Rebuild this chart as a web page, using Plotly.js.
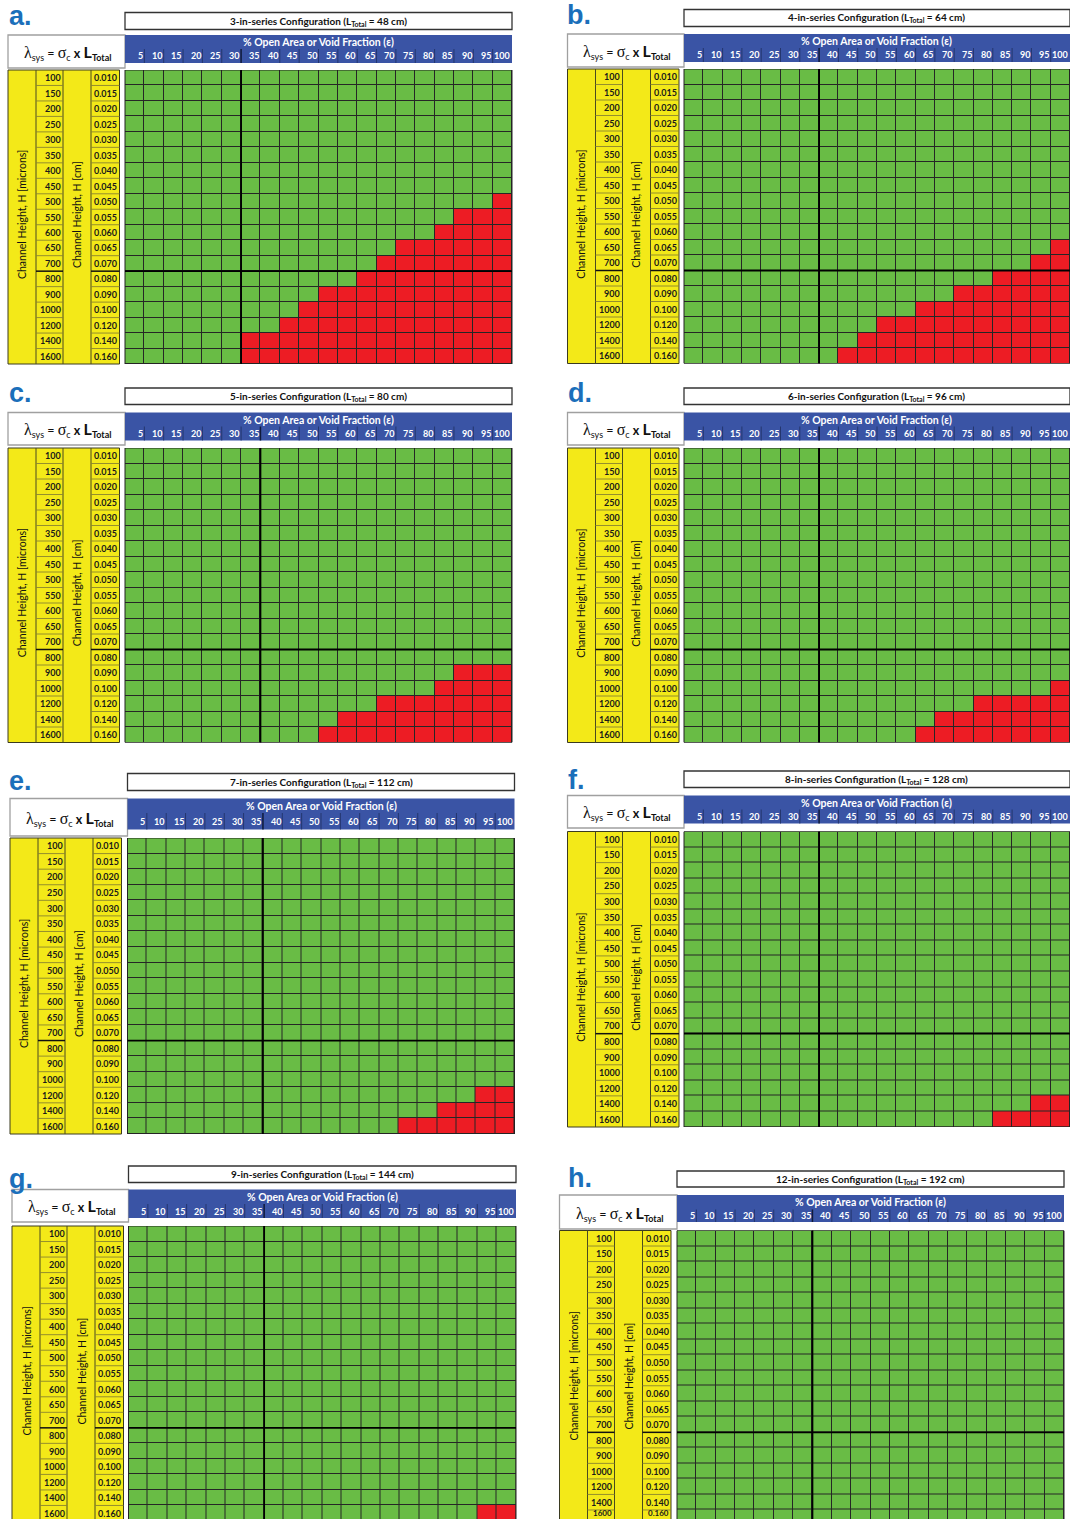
<!DOCTYPE html>
<html><head><meta charset="utf-8">
<script src="https://cdn.plot.ly/plotly-3.0.1.min.js"></script>
<style>html,body{margin:0;padding:0;background:#fff;}#chart{width:1070px;height:1519px;}</style>
</head><body><div id="chart"></div>
<script>
// ---------- DATA ----------
const epsilonPct = ['5','10','15','20','25','30','35','40','45','50','55','60','65','70','75','80','85','90','95','100'];
const heightMicrons = ['100','150','200','250','300','350','400','450','500','550','600','650','700','800','900','1000','1200','1400','1600'];
const heightCm = ['0.010','0.015','0.020','0.025','0.030','0.035','0.040','0.045','0.050','0.055','0.060','0.065','0.070','0.080','0.090','0.100','0.120','0.140','0.160'];
const panelLetters = ['a.','b.','c.','d.','e.','f.','g.','h.'];
const unitsInSeries = [3,4,5,6,7,8,9,12];
const totalLengthCm = [48,64,80,96,112,128,144,192];
// number of red cells at the right end of each row (rows in heightMicrons order)
const redA = [0,0,0,0,0,0,0,0,1,3,4,6,7,8,10,11,12,14,14];
const redB = [0,0,0,0,0,0,0,0,0,0,0,1,2,4,6,8,10,11,12];
const redC = [0,0,0,0,0,0,0,0,0,0,0,0,0,0,3,4,7,9,10];
const redD = [0,0,0,0,0,0,0,0,0,0,0,0,0,0,0,1,5,7,8];
const redE = [0,0,0,0,0,0,0,0,0,0,0,0,0,0,0,0,2,4,6];
const redF = [0,0,0,0,0,0,0,0,0,0,0,0,0,0,0,0,0,2,4];
const redG = [0,0,0,0,0,0,0,0,0,0,0,0,0,0,0,0,0,0,2];
const redH = [0,0,0,0,0,0,0,0,0,0,0,0,0,0,0,0,0,0,0];
const dividerAfterEps = ['30','35','35','35','35','35','35','35'];
const dividerAfterRow = '700';

// ---------- LAYOUT GEOMETRY (pixels) ----------
const W = 1070, H = 1519;
const geo = [
  {lx:8,   ly:16,   L:8,     gx0:125,   gx1:512,  tT:12.5,  tB:29.5,  hT:35,    hM:49,    hB:63,    fB:68,   gT:70,    gB:364},
  {lx:566, ly:15,   L:567.5, gx0:684,   gx1:1070, tT:9.5,   tB:26.5,  hT:34,    hM:48,    hB:62,    fB:67,   gT:69,    gB:363.5},
  {lx:8,   ly:393,  L:8,     gx0:125,   gx1:512,  tT:388,   tB:404.5, hT:412.5, hM:426.5, hB:440.5, fB:445,  gT:448,   gB:742.5},
  {lx:567, ly:393,  L:567.5, gx0:684,   gx1:1070, tT:388,   tB:404.5, hT:412.5, hM:426.5, hB:440.5, fB:445,  gT:448,   gB:742.5},
  {lx:8,   ly:781,  L:10,    gx0:127.5, gx1:514.5,tT:773.5, tB:790.5, hT:798.5, hM:813,   hB:829.5, fB:836,  gT:838,   gB:1134},
  {lx:567, ly:780,  L:567.5, gx0:684,   gx1:1070, tT:771,   tB:787.5, hT:795.5, hM:809.5, hB:823.5, fB:828,  gT:831.5, gB:1127},
  {lx:8,   ly:1179, L:12,    gx0:128.5, gx1:516,  tT:1166,  tB:1182.5,hT:1189.5,hM:1204,  hB:1218,  fB:1222, gT:1226,  gB:1521},
  {lx:567, ly:1178, L:559.5, gx0:677,   gx1:1064, tT:1171,  tB:1187,  hT:1195,  hM:1209.5,hB:1222,  fB:1229, gT:1230.5,gB:1525.5}
];
const panels = [redA, redB, redC, redD, redE, redF, redG, redH];

const GREEN = '#69bc45', RED = '#ed1c24', YELLOW = '#f3e918', BLUE = '#3a54a5', LETTER = '#1b6fba';
const FONT = 'Lato, "Open Sans", "Liberation Sans", sans-serif';
const X = px => px / W, Y = py => 1 - py / H;
const subscript = (t, size, shift) =>
  '<span style="font-size:' + size + 'px;baseline-shift:-' + shift + 'px">' + t + '</span>';

const traces = [], shapes = [], annotations = [];
const layout = {
  width: W, height: H, margin: {l:0, r:0, t:0, b:0},
  paper_bgcolor: '#ffffff', plot_bgcolor: '#262626', showlegend: false,
  font: {family: FONT, color: '#111'}
};

panels.forEach((red, p) => {
  const g = geo[p];
  const sfx = p === 0 ? '' : String(p + 1);
  const xa = 'x' + sfx, ya = 'y' + sfx;
  const nR = heightMicrons.length, nC = epsilonPct.length;
  const rowH = (g.gB - g.gT) / nR;
  const visB = Math.min(g.gB, H);
  const visRows = (visB - g.gT) / rowH;

  layout['xaxis' + sfx] = {domain: [X(g.gx0), X(g.gx1)], type: 'category', range: [-0.5, nC - 0.5],
    showgrid: false, zeroline: false, showticklabels: false, ticks: '', fixedrange: true, anchor: ya};
  layout['yaxis' + sfx] = {domain: [Y(visB), Y(g.gT)], type: 'category', range: [-0.5 + visRows, -0.5],
    showgrid: false, zeroline: false, showticklabels: false, ticks: '', fixedrange: true, anchor: xa};

  const z = heightMicrons.map((h, i) => epsilonPct.map((e, j) => (j >= nC - red[i] ? 1 : 0)));
  traces.push({type: 'heatmap', x: epsilonPct, y: heightMicrons, z: z, xaxis: xa, yaxis: ya,
    colorscale: [[0, GREEN], [1, RED]], zmin: 0, zmax: 1, showscale: false, xgap: 1, ygap: 1, hoverinfo: 'skip'});

  // grid frame + dividers
  shapes.push({type: 'rect', xref: xa + ' domain', yref: ya, x0: 0, x1: 1, y0: -0.5, y1: nR - 0.5,
    line: {color: '#222', width: 1}, fillcolor: 'rgba(0,0,0,0)'});
  const dIdx = epsilonPct.indexOf(dividerAfterEps[p]);
  shapes.push({type: 'line', xref: xa, yref: ya + ' domain', x0: dIdx + 0.5, x1: dIdx + 0.5, y0: 0, y1: 1,
    line: {color: '#000', width: 1.8}});
  const rIdx = heightMicrons.indexOf(dividerAfterRow);
  shapes.push({type: 'line', xref: xa + ' domain', yref: ya, x0: 0, x1: 1, y0: rIdx + 0.5, y1: rIdx + 0.5,
    line: {color: '#000', width: 1.8}});

  // title box
  shapes.push({type: 'rect', xref: 'paper', yref: 'paper', x0: X(g.gx0), x1: X(g.gx1), y0: Y(g.tB), y1: Y(g.tT),
    fillcolor: '#fff', line: {color: '#333', width: 1.3}});
  annotations.push({xref: 'paper', yref: 'paper', x: X((g.gx0 + g.gx1) / 2), y: Y((g.tT + g.tB) / 2),
    text: unitsInSeries[p] + '-in-series Configuration (L' + subscript('Total', 7, 2) + ' = ' + totalLengthCm[p] + ' cm)',
    showarrow: false, font: {size: 10, color: '#111', weight: 700}, xanchor: 'center', yanchor: 'middle'});

  // formula box
  shapes.push({type: 'rect', xref: 'paper', yref: 'paper', x0: X(g.L), x1: X(g.gx0), y0: Y(g.fB), y1: Y(g.hT),
    fillcolor: '#fff', line: {color: '#a0a0a0', width: 1.3}});
  annotations.push({xref: 'paper', yref: 'paper', x: X((g.L + g.gx0) / 2 + 1), y: Y((g.hT + g.fB) / 2 + 1),
    text: '<span style="font-family:Liberation Serif,serif;font-size:16px">λ</span>' + subscript('sys', 9, 3) + ' = ' +
          '<span style="font-family:Liberation Serif,serif;font-size:16px">σ</span>' + subscript('c', 9, 3) + ' ' +
          '<b>x</b> <span style="font-size:16px;font-weight:bold">L</span>' +
          '<span style="font-size:9px;font-weight:bold;baseline-shift:-3px">Total</span>',
    showarrow: false, font: {size: 12.5, color: '#111'}, xanchor: 'center', yanchor: 'middle'});

  // blue header
  shapes.push({type: 'rect', xref: 'paper', yref: 'paper', x0: X(g.gx0), x1: X(g.gx1), y0: Y(g.hB), y1: Y(g.hT),
    fillcolor: BLUE, line: {width: 0}});
  annotations.push({xref: 'paper', yref: 'paper', x: X((g.gx0 + g.gx1) / 2), y: Y((g.hT + g.hM) / 2),
    text: '% Open Area or Void Fraction (ε)', showarrow: false,
    font: {size: 10.5, color: '#fff', weight: 700}, xanchor: 'center', yanchor: 'middle'});
  for (let j = 0; j < nC - 1; j++) {
    shapes.push({type: 'line', xref: xa, yref: 'paper', x0: j + 0.5, x1: j + 0.5, y0: Y(g.hB), y1: Y(g.hM),
      line: {color: j === dIdx ? '#101a3a' : '#24366e', width: j === dIdx ? 1.5 : 1}});
  }
  epsilonPct.forEach((e, j) => {
    annotations.push({xref: xa, yref: 'paper', x: j + 0.46, y: Y((g.hM + g.hB) / 2), text: e, showarrow: false,
      font: {size: 9, color: '#fff', weight: 700}, xanchor: 'right', yanchor: 'middle', borderpad: 0});
  });

  // yellow label block
  const yR = g.L + 111.5;
  shapes.push({type: 'rect', xref: 'paper', yref: 'paper', x0: X(g.L), x1: X(yR), y0: Y(g.gB), y1: Y(g.gT),
    fillcolor: YELLOW, line: {color: '#3a3a20', width: 1}});
  [28, 55, 83].forEach(dx => {
    shapes.push({type: 'line', xref: 'paper', yref: 'paper', x0: X(g.L + dx), x1: X(g.L + dx), y0: Y(g.gB), y1: Y(g.gT),
      line: {color: '#4a4a20', width: 1}});
  });
  for (let i = 0; i < nR - 1; i++) {
    const thick = i === rIdx;
    [[28, 55], [83, 111.5]].forEach(([a, b]) => {
      shapes.push({type: 'line', xref: 'paper', yref: ya, x0: X(g.L + a), x1: X(g.L + b), y0: i + 0.5, y1: i + 0.5,
        line: {color: thick ? '#111' : '#8a8430', width: thick ? 1.5 : 0.9}});
    });
  }
  heightMicrons.forEach((h, i) => {
    // a row label whose centre is too close to the page bottom is kept fully visible at the bottom edge
    const centrePx = g.gT + (i + 0.5) * rowH;
    const clamp = centrePx + 5.5 > H;
    const pos = clamp ? {yref: 'paper', y: 0, yanchor: 'bottom'} : {yref: ya, y: i, yanchor: 'middle'};
    const fs = clamp ? 8 : 9;
    annotations.push(Object.assign({xref: 'paper', x: X(g.L + 53.5), text: h, showarrow: false,
      font: {size: fs, color: '#1a1a1a', weight: 700}, xanchor: 'right', borderpad: 0}, pos));
    annotations.push(Object.assign({xref: 'paper', x: X(g.L + 110), text: heightCm[i], showarrow: false,
      font: {size: fs, color: '#1a1a1a', weight: 700}, xanchor: 'right', borderpad: 0}, pos));
  });
  const midY = Y((g.gT + g.gB) / 2 - 2);
  annotations.push({xref: 'paper', yref: 'paper', x: X(g.L + 14), y: midY, text: 'Channel Height, H [microns]',
    textangle: -90, showarrow: false, font: {size: 10.5, color: '#111'}, xanchor: 'center', yanchor: 'middle'});
  annotations.push({xref: 'paper', yref: 'paper', x: X(g.L + 69), y: midY, text: 'Channel Height, H [cm]',
    textangle: -90, showarrow: false, font: {size: 10.5, color: '#111'}, xanchor: 'center', yanchor: 'middle'});

  // panel letter
  annotations.push({xref: 'paper', yref: 'paper', x: X(g.lx), y: Y(g.ly), text: panelLetters[p], showarrow: false,
    font: {size: 27, color: LETTER, weight: 700, family: '"Liberation Sans", Arial, sans-serif'},
    xanchor: 'left', yanchor: 'middle', borderpad: 0});
});

layout.shapes = shapes;
layout.annotations = annotations;
Plotly.newPlot('chart', traces, layout, {displayModeBar: false, staticPlot: true});
</script>
</body></html>
